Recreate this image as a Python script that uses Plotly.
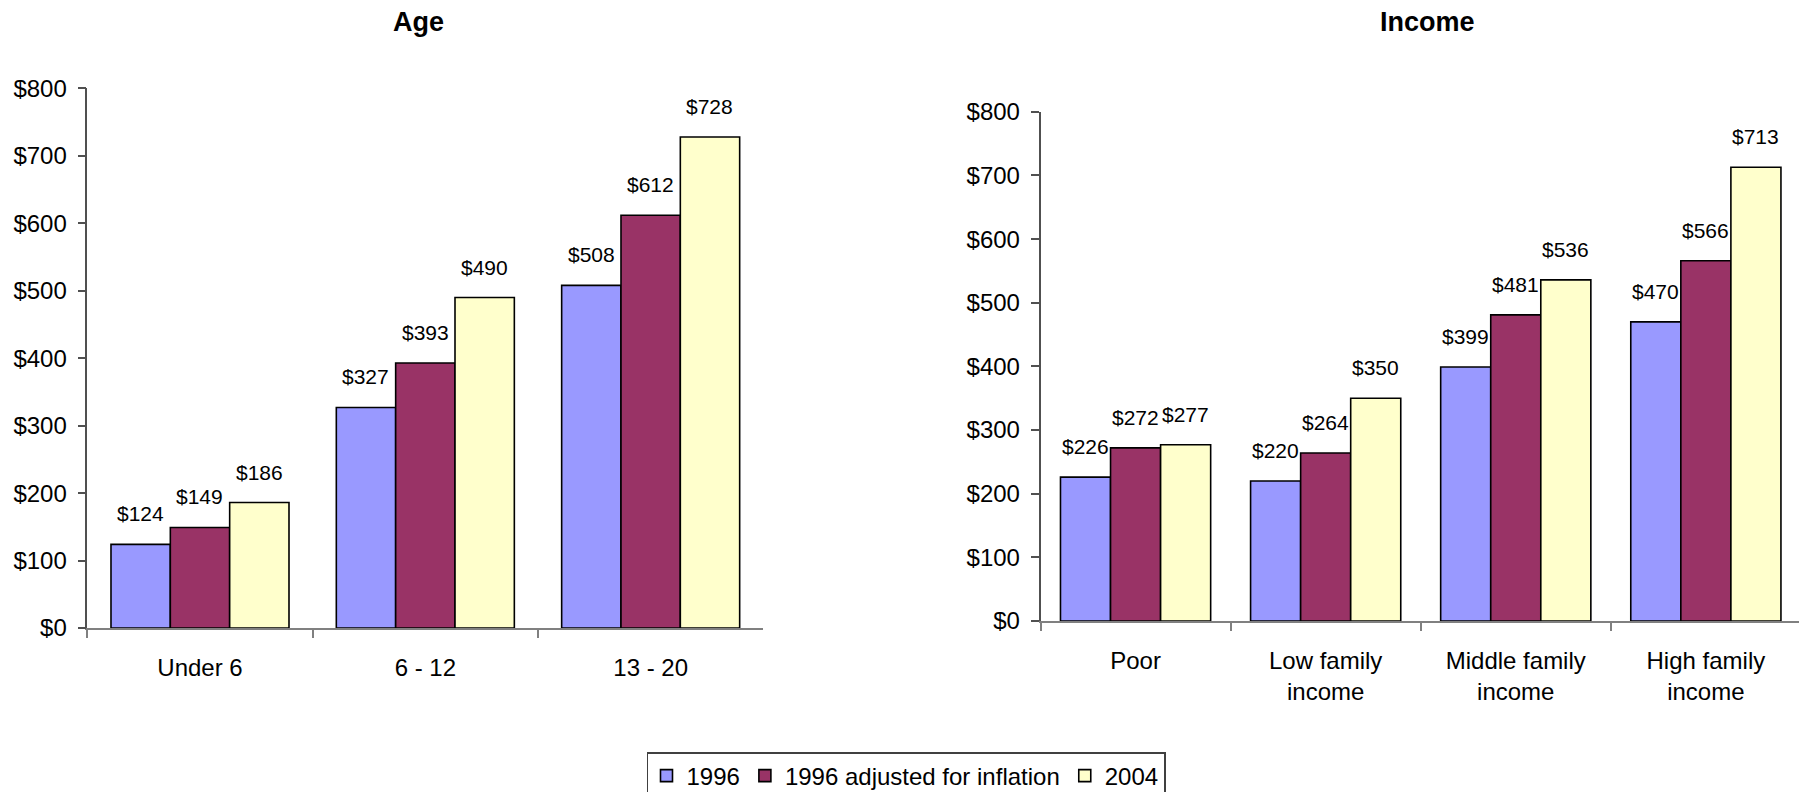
import plotly.graph_objects as go

# ---- data ----
age_categories = ["Under 6", "6 - 12", "13 - 20"]
age_1996 = [124, 327, 508]
age_1996_adj = [149, 393, 612]
age_2004 = [186, 490, 728]

income_categories = ["Poor", "Low family<br>income", "Middle family<br>income", "High family<br>income"]
income_1996 = [226, 220, 399, 470]
income_1996_adj = [272, 264, 481, 566]
income_2004 = [277, 350, 536, 713]

series_names = ["1996", "1996 adjusted for inflation", "2004"]
series_colors = ["#9999FF", "#993366", "#FFFFCC"]

y_ticks = [0, 100, 200, 300, 400, 500, 600, 700, 800]
y_ticktext = ["$" + str(v) for v in y_ticks]

FONT = "Liberation Sans, Arial, sans-serif"
BARGAP = 0.21
W, H = 1807, 792

fig = go.Figure()

age_series = [age_1996, age_1996_adj, age_2004]
inc_series = [income_1996, income_1996_adj, income_2004]

for i, name in enumerate(series_names):
    fig.add_trace(go.Bar(
        x=age_categories, y=age_series[i], name=name,
        marker=dict(color=series_colors[i], line=dict(color="#000000", width=1.6)),
        xaxis="x", yaxis="y", legendgroup=name, showlegend=True,
    ))
for i, name in enumerate(series_names):
    fig.add_trace(go.Bar(
        x=income_categories, y=inc_series[i], name=name,
        marker=dict(color=series_colors[i], line=dict(color="#000000", width=1.6)),
        xaxis="x2", yaxis="y2", legendgroup=name, showlegend=False,
    ))

# value labels placed at each bar's position on the category axis
annotations = []
n_series = len(series_names)
bar_frac = (1 - BARGAP) / n_series
for cats, series, xr, yr in [(age_categories, age_series, "x", "y"),
                             (income_categories, inc_series, "x2", "y2")]:
    for i in range(n_series):
        for j, v in enumerate(series[i]):
            annotations.append(dict(
                x=j + (i - (n_series - 1) / 2) * bar_frac, y=v, xref=xr, yref=yr,
                text="$" + str(v), showarrow=False, xanchor="center", yanchor="bottom",
                yshift=17, font=dict(family=FONT, size=21, color="#000000")))

annotations += [
    dict(text="<b>Age</b>", x=410 / W, y=1 - 14 / H, xref="paper", yref="paper",
         showarrow=False, font=dict(family=FONT, size=27, color="#000000"),
         xanchor="center", yanchor="middle"),
    dict(text="<b>Income</b>", x=1419 / W, y=1 - 14 / H, xref="paper", yref="paper",
         showarrow=False, font=dict(family=FONT, size=27, color="#000000"),
         xanchor="center", yanchor="middle"),
]

axis_font = dict(family=FONT, size=24, color="#000000")
xcommon = dict(type="category", showline=True, linecolor="#808080", linewidth=1.5,
               ticks="outside", tickson="boundaries", ticklen=8, tickcolor="#808080",
               tickwidth=1.5, tickfont=axis_font, showgrid=False, zeroline=False,
               ticklabelstandoff=17)
ycommon = dict(range=[0, 800], tickvals=y_ticks, ticktext=y_ticktext, showline=True,
               linecolor="#505050", linewidth=1.5, ticks="outside", ticklen=8,
               tickcolor="#505050", tickwidth=1.5, tickfont=axis_font, showgrid=False,
               zeroline=False, ticklabelstandoff=6)

fig.update_layout(
    width=W, height=H,
    margin=dict(l=0, r=0, t=0, b=0, autoexpand=False),
    paper_bgcolor="white", plot_bgcolor="white",
    barmode="group", bargap=BARGAP, bargroupgap=0,
    font=dict(family=FONT, color="#000000"),
    xaxis=dict(domain=[0.0439, 0.4180], anchor="y", **xcommon),
    yaxis=dict(domain=[0.2172, 0.8984], anchor="x", **ycommon),
    xaxis2=dict(domain=[0.5714, 0.9922], anchor="y2", **xcommon),
    yaxis2=dict(domain=[0.2260, 0.8689], anchor="x2", **ycommon),
    legend=dict(orientation="h", x=898 / W, xanchor="center", y=1 - 744 / H, yanchor="top",
                bordercolor="#404040", borderwidth=1.5, bgcolor="white",
                font=dict(family=FONT, size=24, color="#000000"), itemwidth=30),
    annotations=annotations,
)

fig.write_html("out.html")
